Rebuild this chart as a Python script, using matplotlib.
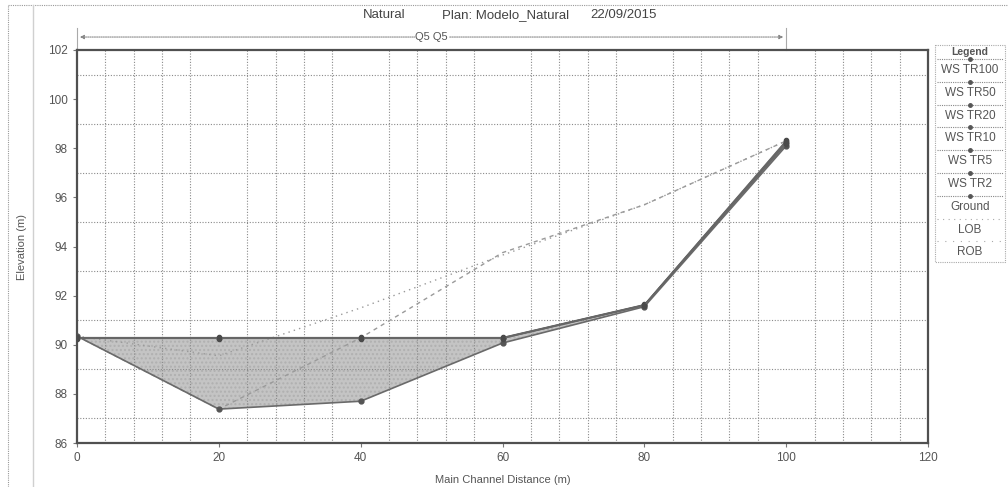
import matplotlib
matplotlib.use("Agg")
import matplotlib.pyplot as plt
from matplotlib.ticker import MultipleLocator
from matplotlib.lines import Line2D
import matplotlib.transforms as mtransforms

plt.rcParams['font.family'] = ['Liberation Sans', 'DejaVu Sans']

# station data
stations = [0, 20, 40, 60, 80, 100]
ground = [90.35, 87.38, 87.70, 90.07, 91.55, 98.10]
ws_tr100 = [90.30, 90.30, 90.30, 90.30, 91.64, 98.32]
ws_tr50 = [90.29, 90.29, 90.29, 90.29, 91.63, 98.29]
ws_tr20 = [90.28, 90.28, 90.28, 90.28, 91.62, 98.26]
ws_tr10 = [90.27, 90.27, 90.27, 90.27, 91.61, 98.23]
ws_tr5 = [90.26, 90.26, 90.26, 90.26, 91.60, 98.20]
ws_tr2 = [90.25, 90.25, 90.25, 90.25, 91.59, 98.17]
lob = [90.35, 89.55, 91.50, 93.65, 95.70, 98.30]
rob = [90.35, 87.38, 90.28, 93.75, 95.70, 98.30]

ws_series = [ws_tr100, ws_tr50, ws_tr20, ws_tr10, ws_tr5, ws_tr2]
ws_labels = ["WS TR100", "WS TR50", "WS TR20", "WS TR10", "WS TR5", "WS TR2"]
legend_labels = ws_labels + ["Ground", "LOB", "ROB"]

title_parts = ["Natural", "Plan: Modelo_Natural", "22/09/2015"]
profile_label = "Q5 Q5"

W, H = 1008, 487
fig = plt.figure(figsize=(W / 100, H / 100), dpi=100)
fig.patch.set_facecolor("white")

gray_txt = "#555555"
ax = fig.add_axes([77 / W, (H - 443) / H, 851 / W, 393 / H])

ax.fill_between(stations, ws_tr2, ground, where=[w >= g for w, g in zip(ws_tr2, ground)],
                interpolate=True, facecolor="#c4c4c4", edgecolor="#b0b0b0", hatch="....",
                linewidth=0, zorder=1)

ax.plot(stations, lob, color="#9a9a9a", lw=1.0, ls=(0, (1, 3)), zorder=3)
ax.plot(stations, rob, color="#9a9a9a", lw=1.0, ls=(0, (3, 3)), zorder=3)
ax.plot(stations, ground, color="#6a6a6a", lw=1.2, marker="o", ms=3.5, mfc="#555555", mec="#555555", zorder=4)
for s in ws_series:
    ax.plot(stations, s, color="#666666", lw=0.7, marker="o", ms=3, mfc="#4a4a4a", mec="#4a4a4a", zorder=5)

ax.set_xlim(0, 120)
ax.set_ylim(86, 102)
ax.xaxis.set_major_locator(MultipleLocator(20))
ax.xaxis.set_minor_locator(MultipleLocator(4))
ax.yaxis.set_major_locator(MultipleLocator(2))
ax.yaxis.set_minor_locator(MultipleLocator(1))
ax.grid(which="minor", color="#8a8a8a", ls=(0, (1, 1.5)), lw=0.8)
ax.tick_params(which="major", length=3, color="#777777", labelcolor=gray_txt, labelsize=8.5)
ax.tick_params(which="minor", length=0)
for sp in ax.spines.values():
    sp.set_color("#505050")
    sp.set_linewidth(1.6)

ax.set_xlabel("Main Channel Distance (m)", fontsize=8, color=gray_txt, labelpad=8)
ax.set_ylabel("Elevation (m)", fontsize=8, color=gray_txt, labelpad=15)

# profile extent arrow above the plot
trans = mtransforms.blended_transform_factory(ax.transData, ax.transAxes)
ax.annotate("", xy=(stations[0], 1.033), xytext=(stations[-1], 1.033), xycoords=trans, textcoords=trans,
            arrowprops=dict(arrowstyle="<|-|>", color="#888888", lw=0.8, ls=(0, (1, 1)),
                            mutation_scale=6), annotation_clip=False)
for xs in (stations[0], stations[-1]):
    ax.plot([xs, xs], [1.0, 1.055], transform=trans, color="#aaaaaa", lw=0.8, clip_on=False)
ax.text((stations[0] + stations[-1]) / 2, 1.033, profile_label, transform=trans, ha="center", va="center",
        fontsize=8, color=gray_txt, bbox=dict(facecolor="white", edgecolor="none", pad=0.5))

for part, xl in zip(title_parts, [363, 442, 590]):
    fig.text(xl / W, 1 - 18 / H, part, ha="left", va="baseline", fontsize=9.5, color="#444444")

# outer dotted frame (left and top)
fig.add_artist(Line2D([8 / W, 8 / W], [0, 1 - 5 / H], color="#999999", lw=0.8, ls=(0, (1, 1))))
fig.add_artist(Line2D([8 / W, 1], [1 - 5 / H, 1 - 5 / H], color="#999999", lw=0.8, ls=(0, (1, 1))))
fig.add_artist(Line2D([33 / W, 33 / W], [0, 1 - 5 / H], color="#d0d0d0", lw=1.0))

# legend panel, pixel coordinates
lg = fig.add_axes([935 / W, (H - 262) / H, 70 / W, 217 / H])
lg.set_xlim(0, 70)
lg.set_ylim(262, 45)
lg.axis("off")
lg.plot([0, 70, 70, 0, 0], [45, 45, 262, 262, 45], color="#aaaaaa", lw=0.8, ls=(0, (1, 1)), clip_on=False)
lg.text(35, 52, "Legend", ha="center", va="center", fontsize=7.5, fontweight="bold", color=gray_txt)
step = 22.8
for i, lab in enumerate(legend_labels):
    yl = 70 + i * step
    ys = yl - 11
    if i < 7:
        lg.plot([2, 68], [ys, ys], color="#888888", lw=0.8, ls=(0, (1, 1)))
        lg.plot([35], [ys], marker="o", ms=2.5, color="#555555")
    elif i == 7:
        lg.plot([2, 68], [ys, ys], color="#aaaaaa", lw=0.8, ls=(0, (1, 4)))
    else:
        lg.plot([2, 68], [ys, ys], color="#aaaaaa", lw=0.8, ls=(0, (1, 6)))
    lg.text(35, yl, lab, ha="center", va="center", fontsize=8.5, color=gray_txt)

fig.savefig("out.png", dpi=100, facecolor="white")
